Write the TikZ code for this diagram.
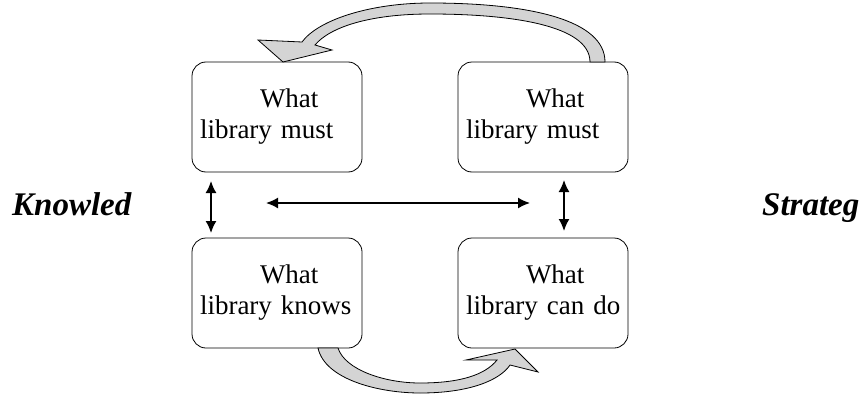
\documentclass[tikz,border=0pt]{standalone}
\usepackage{fontspec}
\setmainfont{Liberation Serif}
\usetikzlibrary{arrows.meta}

\tikzset{
  libbox/.style={draw, thick, rounded corners=14pt, minimum width=170pt, minimum height=110pt,
    text width=154pt, inner xsep=8pt, align=left, font=\fontsize{27}{31}\selectfont},
  sidelabel/.style={font=\fontsize{33}{38}\selectfont\bfseries\itshape, inner sep=0pt},
  dblarrow/.style={{Latex[length=12pt,width=11pt]}-{Latex[length=12pt,width=11pt]}, line width=1.6pt},
  turnarrow/.style={draw, thick, fill=black!17}
}

\begin{document}
\begin{tikzpicture}[x=1pt, y=-1pt]
\useasboundingbox (0,0) rectangle (866,396);

% the four boxes
\node [libbox] (must1) at (277,117) {\hspace*{60pt}What\\\mbox{library must}};
\node [libbox] (must2) at (543,117) {\hspace*{60pt}What\\\mbox{library must}};
\node [libbox] (knows) at (277,293) {\hspace*{60pt}What\\\mbox{library knows}};
\node [libbox] (cando) at (543,293) {\hspace*{60pt}What\\\mbox{library can do}};

% side labels
\node [sidelabel, anchor=base west] (know) at (12,215) {Knowled};
\node [sidelabel, anchor=base west] (strat) at (762,215) {Strateg};

% double arrows
\coordinate (lu) at (211,181);
\coordinate (ld) at (211,233);
\coordinate (ru) at (564,180);
\coordinate (rd) at (564,231);
\coordinate (hl) at (266,203);
\coordinate (hr) at (530,203);
\draw [dblarrow] (lu) -- (ld);
\draw [dblarrow] (ru) -- (rd);
\draw [dblarrow] (hl) -- (hr);

% curved block arrow on top (right box -> left box)
\draw [turnarrow] (590,62) .. controls (590,25) and (510,14) .. (430,14)
  .. controls (370,14) and (330,27) .. (315,45) -- (332,50) -- (283,62) -- (258,40) -- (302,42)
  .. controls (318,20) and (370,3) .. (430,3)
  .. controls (530,3) and (605,20) .. (605,62) -- cycle;

% curved block arrow at the bottom (left box -> right box)
\draw [turnarrow] (318,348) .. controls (325,380) and (380,393) .. (420,393)
  .. controls (470,393) and (500,380) .. (510,365) -- (538,372) -- (515,349) -- (466,360) -- (497,360)
  .. controls (485,375) and (460,383) .. (420,383)
  .. controls (385,383) and (345,370) .. (338,348) -- cycle;
\end{tikzpicture}
\end{document}
